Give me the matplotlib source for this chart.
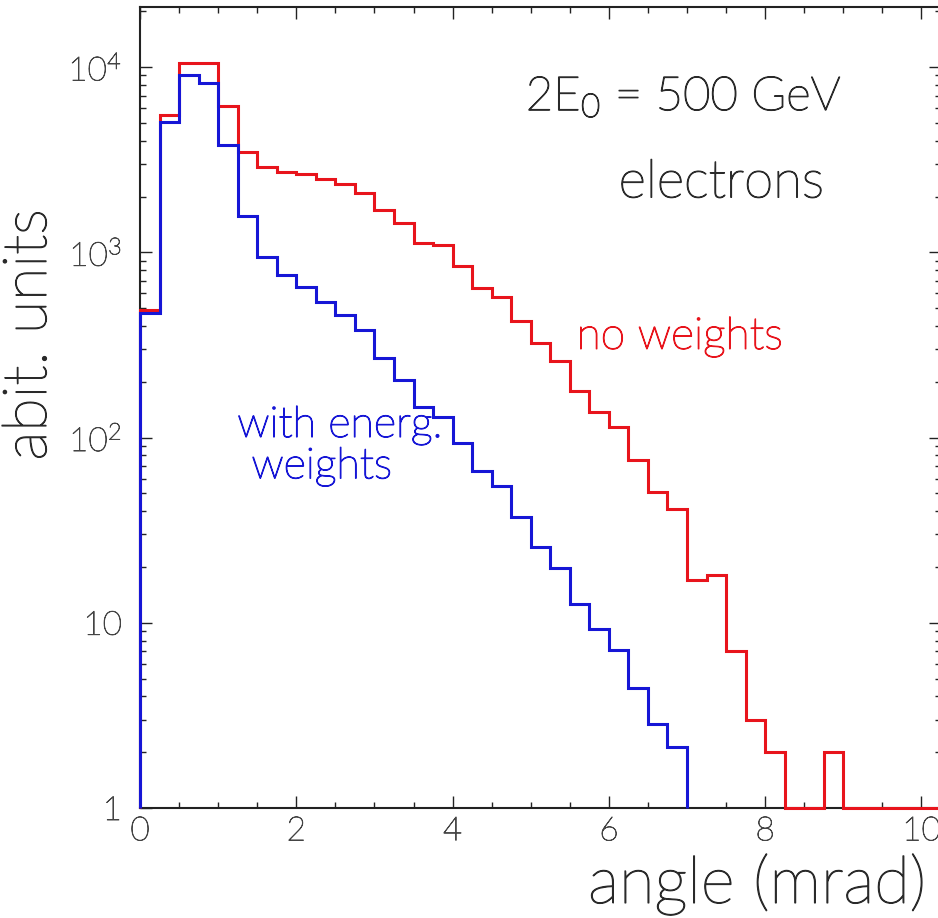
import numpy as np
import matplotlib
matplotlib.use("Agg")
import matplotlib.pyplot as plt
import matplotlib.patheffects as pe
from matplotlib.ticker import FixedLocator, MultipleLocator, LogLocator, NullFormatter

plt.rcParams['font.family'] = ['Lato', 'DejaVu Sans']
plt.rcParams['font.weight'] = 'light'

bin_width = 0.25  # mrad

# no weights (counts), empty bins sit on the axis minimum (1)
red_vals = [488, 5510, 10470, 10500, 6150, 3490, 2900, 2720, 2640, 2480,
            2330, 2100, 1690, 1445, 1127, 1090, 838, 638, 575, 428,
            322, 259, 179, 137, 114, 76, 51, 41, 17, 18,
            7, 3, 2, 1, 1, 2, 1, 1, 1, 1,
            1, 1]

# with energy weights
blue_vals = [470, 5050, 9050, 8170, 3790, 1560, 940, 750, 646, 541,
             458, 380, 269, 204, 147, 129, 93, 66, 55, 37,
             25.8, 19.8, 12.6, 9.25, 7.1, 4.47, 2.84, 2.13]

red_edges = np.arange(len(red_vals) + 1) * bin_width
blue_edges = np.arange(len(blue_vals) + 1) * bin_width

ytick_vals = [1, 10, 100, 1000, 10000]
ytick_labels = ['1', '10', r'$\mathregular{10^{2}}$', r'$\mathregular{10^{3}}$', r'$\mathregular{10^{4}}$']
xtick_vals = [0, 2, 4, 6, 8, 10]

red = '#e8141c'
blue = '#1616d6'
txt = '#2a2a2a'


def thicken(color, w=0.9):
    return [pe.withStroke(linewidth=w, foreground=color)]


fig = plt.figure(figsize=(9.38, 9.18), dpi=100)
ax = fig.add_axes([140 / 938, 110 / 918, 801 / 938, 801 / 918])

ax.stairs(red_vals, red_edges, baseline=1, color=red, lw=2.2, zorder=3, clip_on=False)
ax.stairs(blue_vals, blue_edges, baseline=1, color=blue, lw=2.2, zorder=3, clip_on=False)

ax.set_yscale('log')
ax.set_xlim(0, 10.25)
ax.set_ylim(1, 10 ** 4.324)

ax.xaxis.set_major_locator(FixedLocator(xtick_vals))
ax.xaxis.set_minor_locator(MultipleLocator(0.5))
ax.set_xticklabels([str(v) for v in xtick_vals])
ax.yaxis.set_major_locator(FixedLocator(ytick_vals))
ax.set_yticklabels(ytick_labels)
ax.yaxis.set_minor_locator(LogLocator(base=10, subs=np.arange(2, 10)))
ax.yaxis.set_minor_formatter(NullFormatter())

ax.tick_params(which='both', direction='in', top=True, right=True, width=1.0, color='#222222')
ax.tick_params(which='major', length=8.5, labelsize=24, labelcolor='#444444')
ax.tick_params(which='minor', length=4.5)
ax.tick_params(axis='x', which='major', pad=6)
ax.tick_params(axis='y', which='major', pad=13)
for lab in ax.get_xticklabels() + ax.get_yticklabels():
    lab.set_path_effects(thicken('#444444', 0.6))
for s in ax.spines.values():
    s.set_linewidth(1.5)
    s.set_color('#222222')

fig.text(29 / 938, 1 - 335 / 918, 'abit. units', rotation=90, ha='center', va='center',
         fontsize=44, color=txt, path_effects=thicken(txt))
fig.text(926 / 938, 1 - 884 / 918, 'angle (mrad)', ha='right', va='center',
         fontsize=47, color=txt, path_effects=thicken(txt))

fig.text(0.729, 0.880, r'$\mathregular{2E_0}$ = 500 GeV', ha='center', va='baseline',
         fontsize=34, color=txt, path_effects=thicken(txt))
fig.text(0.769, 0.785, 'electrons', ha='center', va='baseline', fontsize=38, color=txt,
         path_effects=thicken(txt))
fig.text(0.725, 0.620, 'no weights', ha='center', va='baseline', fontsize=32, color=red,
         path_effects=thicken(red))
fig.text(0.3625, 0.524, 'with energ.', ha='center', va='baseline', fontsize=31, color=blue,
         path_effects=thicken(blue))
fig.text(0.343, 0.479, 'weights', ha='center', va='baseline', fontsize=31, color=blue,
         path_effects=thicken(blue))

fig.savefig('out.png', dpi=100)
